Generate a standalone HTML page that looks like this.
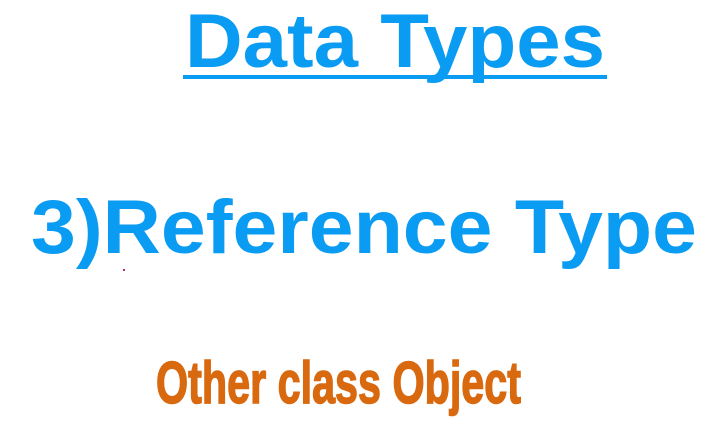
<!DOCTYPE html>
<html><head><meta charset="utf-8"><style>
html,body{margin:0;padding:0;background:#fff;width:716px;height:424px;overflow:hidden}
</style></head><body>
<svg width="716" height="424" xmlns="http://www.w3.org/2000/svg">
<rect width="716" height="424" fill="#fff"/>
<text x="185" y="67" font-family="Liberation Sans, sans-serif" font-weight="bold" font-size="76" fill="#0a9bf2" textLength="420" lengthAdjust="spacingAndGlyphs">Data Types</text>
<rect x="183" y="75" width="424" height="4" fill="#0a9bf2"/>
<text x="31" y="253" font-family="Liberation Sans, sans-serif" font-weight="bold" font-size="76" fill="#0a9bf2" textLength="666" lengthAdjust="spacingAndGlyphs">3)Reference Type</text>
<rect x="123" y="269" width="2" height="2" fill="#c0304a"/>
<text x="156" y="403" font-family="Liberation Sans Narrow, Liberation Sans, sans-serif" font-weight="bold" font-size="59" fill="#d9690f" stroke="#d9690f" stroke-width="1.5" textLength="365" lengthAdjust="spacingAndGlyphs">Other class Object</text>
</svg>
</body></html>
